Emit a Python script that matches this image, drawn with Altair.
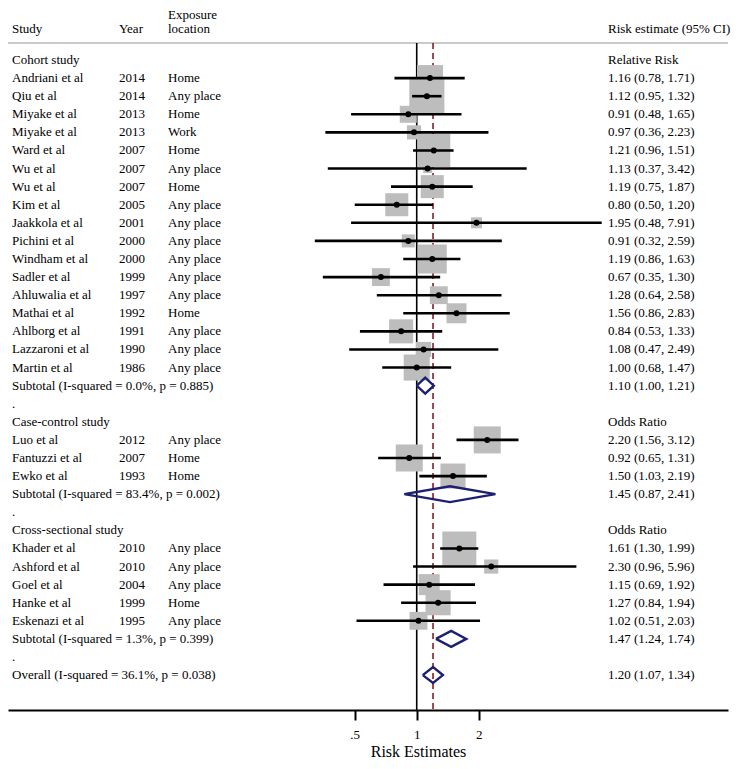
import altair as alt
import pandas as pd

# ---------------- data ----------------
groups = ["Cohort study", "Case-control study", "Cross-sectional study"]
measures = ["Relative Risk", "Odds Ratio", "Odds Ratio"]

cohort_study = ["Andriani et al", "Qiu et al", "Miyake et al", "Miyake et al", "Ward et al",
                "Wu et al", "Wu et al", "Kim et al", "Jaakkola et al", "Pichini et al",
                "Windham et al", "Sadler et al", "Ahluwalia et al", "Mathai et al",
                "Ahlborg et al", "Lazzaroni et al", "Martin et al"]
cohort_year = [2014, 2014, 2013, 2013, 2007, 2007, 2007, 2005, 2001, 2000, 2000, 1999, 1997,
               1992, 1991, 1990, 1986]
cohort_loc = ["Home", "Any place", "Home", "Work", "Home", "Any place", "Home", "Any place",
              "Any place", "Any place", "Any place", "Any place", "Any place", "Home",
              "Any place", "Any place", "Any place"]
cohort_est = [1.16, 1.12, 0.91, 0.97, 1.21, 1.13, 1.19, 0.80, 1.95, 0.91, 1.19, 0.67, 1.28,
              1.56, 0.84, 1.08, 1.00]
cohort_lo = [0.78, 0.95, 0.48, 0.36, 0.96, 0.37, 0.75, 0.50, 0.48, 0.32, 0.86, 0.35, 0.64,
             0.86, 0.53, 0.47, 0.68]
cohort_hi = [1.71, 1.32, 1.65, 2.23, 1.51, 3.42, 1.87, 1.20, 7.91, 2.59, 1.63, 1.30, 2.58,
             2.83, 1.33, 2.49, 1.47]
cohort_weight = [6.8, 12.3, 2.9, 2.0, 10.9, 0.8, 5.3, 5.3, 1.2, 1.7, 8.4, 3.2, 3.2, 4.0, 5.8,
                 2.3, 6.8]

cc_study = ["Luo et al", "Fantuzzi et al", "Ewko et al"]
cc_year = [2012, 2007, 1993]
cc_loc = ["Any place", "Home", "Home"]
cc_est = [2.20, 0.92, 1.50]
cc_lo = [1.56, 0.65, 1.03]
cc_hi = [3.12, 1.31, 2.19]
cc_weight = [7.3, 7.3, 6.3]

cs_study = ["Khader et al", "Ashford et al", "Goel et al", "Hanke et al", "Eskenazi et al"]
cs_year = [2010, 2010, 2004, 1999, 1995]
cs_loc = ["Any place", "Any place", "Any place", "Home", "Any place"]
cs_est = [1.61, 2.30, 1.15, 1.27, 1.02]
cs_lo = [1.30, 0.96, 0.69, 0.84, 0.51]
cs_hi = [1.99, 5.96, 1.92, 1.94, 2.03]
cs_weight = [11.6, 2.0, 4.4, 6.3, 3.2]

sub_i2 = [0.0, 83.4, 1.3]
sub_p = [0.885, 0.002, 0.399]
sub_est = [1.10, 1.45, 1.47]
sub_lo = [1.00, 0.87, 1.24]
sub_hi = [1.21, 2.41, 1.74]

overall_i2 = 36.1
overall_p = 0.038
overall_est = 1.20
overall_lo = 1.07
overall_hi = 1.34

xticks = [0.5, 1, 2]
header_top = ["Exposure"]
header_cols = {"study": "Study", "year": "Year", "loc": "location", "est": "Risk estimate (95% CI)"}

# ---------------- build tables ----------------
group_data = [
    (cohort_study, cohort_year, cohort_loc, cohort_est, cohort_lo, cohort_hi, cohort_weight),
    (cc_study, cc_year, cc_loc, cc_est, cc_lo, cc_hi, cc_weight),
    (cs_study, cs_year, cs_loc, cs_est, cs_lo, cs_hi, cs_weight),
]


def fmt(e, l, h):
    return f"{e:.2f} ({l:.2f}, {h:.2f})"


studies, texts, diamonds = [], [], []
row = 0
for gi, (st, yr, lc, es, lo, hi, wt) in enumerate(group_data):
    texts.append({"row": row, "col": "study", "text": groups[gi]})
    texts.append({"row": row, "col": "est", "text": measures[gi]})
    row += 1
    for i in range(len(st)):
        studies.append({"row": row, "est": es[i], "lo": lo[i], "hi": hi[i], "w": wt[i]})
        texts.append({"row": row, "col": "study", "text": st[i]})
        texts.append({"row": row, "col": "year", "text": str(yr[i])})
        texts.append({"row": row, "col": "loc", "text": lc[i]})
        texts.append({"row": row, "col": "est", "text": fmt(es[i], lo[i], hi[i])})
        row += 1
    texts.append({"row": row, "col": "study",
                  "text": f"Subtotal  (I-squared = {sub_i2[gi]:.1f}%, p = {sub_p[gi]:.3f})"})
    texts.append({"row": row, "col": "est", "text": fmt(sub_est[gi], sub_lo[gi], sub_hi[gi])})
    diamonds.append((gi, row, sub_est[gi], sub_lo[gi], sub_hi[gi]))
    row += 1
    texts.append({"row": row, "col": "study", "text": "."})
    row += 1
    if gi == len(group_data) - 1:
        texts.append({"row": row, "col": "study",
                      "text": f"Overall  (I-squared = {overall_i2:.1f}%, p = {overall_p:.3f})"})
        texts.append({"row": row, "col": "est", "text": fmt(overall_est, overall_lo, overall_hi)})
        diamonds.append((3, row, overall_est, overall_lo, overall_hi))

half_h = 0.44
dpts = []
for did, r, e, l, h in diamonds:
    for k, (xv, yv) in enumerate([(l, r), (e, r - half_h), (h, r), (e, r + half_h), (l, r)]):
        dpts.append({"id": did, "ord": k, "x": xv, "row": yv})

df_st = pd.DataFrame(studies)
df_tx = pd.DataFrame(texts)
df_d = pd.DataFrame(dpts)
df_h = pd.DataFrame({"col": list(header_cols.keys()), "text": list(header_cols.values())})
df_h2 = pd.DataFrame({"text": header_top})

# ---------------- scales ----------------
W, H = 720, 702
FONT = "Liberation Serif"
xsc = alt.Scale(type="log", domain=[0.01036, 32.47], nice=False)
ysc = alt.Scale(domain=[-2.875, 35.93], reverse=True, nice=False, zero=False)

base_axis = alt.Axis(values=xticks,
                     labelExpr="datum.value < 0.9 ? '.5' : format(datum.value, 'd')",
                     title="Risk Estimates", grid=False, domainColor="black", domainWidth=2,
                     tickColor="black", tickWidth=2, tickSize=10, labelPadding=8,
                     labelFont=FONT, labelFontSize=13, labelColor="black", labelFlush=False,
                     labelOverlap=False,
                     titleFont=FONT, titleFontSize=16, titleFontWeight="normal",
                     titleColor="black", titleX=410, titleY=41, titleAlign="center",
                     titleBaseline="middle")

X = lambda f: alt.X(f, type="quantitative", scale=xsc, axis=base_axis, title="Risk Estimates")
Y = lambda f: alt.Y(f, type="quantitative", scale=ysc, axis=None)

sep = alt.Chart(pd.DataFrame({"a": [0]})).mark_rule(color="#b8b8b8", strokeWidth=1.5).encode(
    x=alt.value(0), x2=alt.value(W), y=alt.value(35))

ref_df = pd.DataFrame({"v": [1.0]})
ref1 = alt.Chart(ref_df).mark_rule(color="black", strokeWidth=1.6).encode(
    x=X("v"), y=alt.value(35), y2=alt.value(H))

ov_df = pd.DataFrame({"v": [overall_est]})
ref2 = alt.Chart(ov_df).mark_rule(color="#8a1c24", strokeWidth=1.6, strokeDash=[6, 4]).encode(
    x=X("v"), y=alt.value(35), y2=alt.value(H))

boxes = alt.Chart(df_st).mark_square(color="#bdbdbd", opacity=1, filled=True).encode(
    x=X("est"), y=Y("row"),
    size=alt.Size("w:Q", scale=alt.Scale(domain=[0, 12.25], range=[0, 1225], zero=True),
                  legend=None))

ci = alt.Chart(df_st).mark_rule(color="black", strokeWidth=2.6).encode(
    x=X("lo"), x2="hi", y=Y("row"))

dots = alt.Chart(df_st).mark_circle(color="black", opacity=1, size=36).encode(
    x=X("est"), y=Y("row"))

dia = alt.Chart(df_d).mark_line(color="#1c1f72", strokeWidth=2.4, strokeJoin="miter").encode(
    x=X("x"), y=Y("row"), detail="id:N", order="ord:Q")

colx = {"study": 4, "year": 111, "loc": 160, "est": 600}
txt_layers = []
for c, px in colx.items():
    txt_layers.append(
        alt.Chart(df_tx[df_tx["col"] == c]).mark_text(
            align="left", baseline="middle", font=FONT, fontSize=13, color="black").encode(
            x=alt.value(px), y=Y("row"), text="text:N"))
    txt_layers.append(
        alt.Chart(df_h[df_h["col"] == c]).mark_text(
            align="left", baseline="middle", font=FONT, fontSize=13, color="black").encode(
            x=alt.value(px), y=alt.value(21), text="text:N"))

txt_layers.append(
    alt.Chart(df_h2).mark_text(
        align="left", baseline="middle", font=FONT, fontSize=13, color="black").encode(
        x=alt.value(colx["loc"]), y=alt.value(6.5), text="text:N"))

chart = alt.layer(sep, ref1, ref2, boxes, ci, dots, dia, *txt_layers).properties(
    width=W, height=H, background="white",
    padding={"top": 0, "left": 0, "right": 4, "bottom": 51},
    autosize=alt.AutoSizeParams(type="none")
).configure_view(stroke=None)

chart.save("out.html", embed_options={"renderer": "svg", "actions": False})
